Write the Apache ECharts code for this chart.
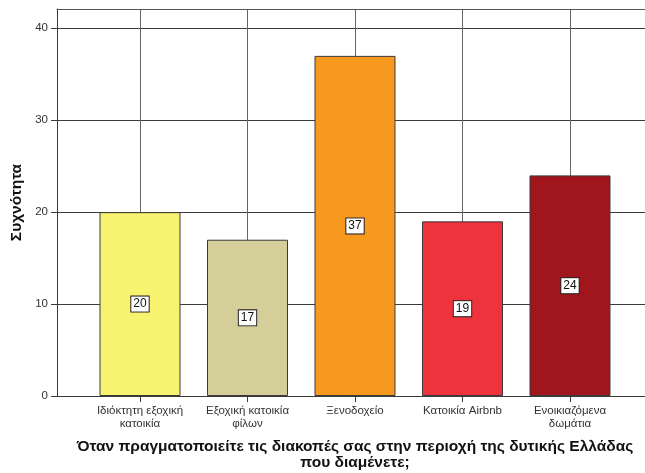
<!DOCTYPE html>
<html>
<head>
<meta charset="utf-8">
<script src="https://cdn.jsdelivr.net/npm/echarts@6/dist/echarts.min.js"></script>
<style>
  html, body { margin: 0; padding: 0; background: #fff; }
  #chart { width: 645px; height: 473px; }
</style>
</head>
<body>
<div id="chart"></div>
<script>
// Accommodation types and their counts
const categories = [
  'Ιδιόκτητη εξοχική\nκατοικία',
  'Εξοχική κατοικία\nφίλων',
  'Ξενοδοχείο',
  'Κατοικία Airbnb',
  'Ενοικιαζόμενα\nδωμάτια'
];
const counts = [20, 17, 37, 19, 24];
const barColors = ['#F8F36F', '#D4CE98', '#F7991F', '#EF333C', '#A1161C'];
const yTicks = [0, 10, 20, 30, 40];

const yAxisTitle = 'Συχνότητα';
const xAxisTitle = 'Όταν πραγματοποιείτε τις διακοπές σας στην περιοχή της δυτικής Ελλάδας\nπου διαμένετε;';

const FONT = '"Liberation Sans", Arial, sans-serif';
const Y_MAX = 42.1;
const LINE = '#3a3a3a';

const chart = echarts.init(document.getElementById('chart'), null, { renderer: 'canvas' });

chart.setOption({
  animation: false,
  backgroundColor: '#ffffff',
  grid: [
    // full frame: value axis, horizontal grid lines
    { left: 57, right: 0, top: 9, bottom: 77, containLabel: false, outerBoundsMode: 'none' },
    // bars: category centres spaced evenly between the first and last bar
    { left: 140, right: 75, top: 9, bottom: 77, containLabel: false, outerBoundsMode: 'none' }
  ],
  xAxis: [
    {
      gridIndex: 0, type: 'value', min: 0, max: 1,
      axisLine: { show: true, lineStyle: { color: LINE, width: 1 } },
      axisTick: { show: false }, axisLabel: { show: false }, splitLine: { show: false }
    },
    {
      gridIndex: 0, type: 'value', min: 0, max: 1, position: 'top',
      axisLine: { show: true, lineStyle: { color: '#555', width: 1 } },
      axisTick: { show: false }, axisLabel: { show: false }, splitLine: { show: false }
    },
    {
      gridIndex: 1, type: 'category', data: categories, boundaryGap: false,
      axisLine: { show: false },
      axisTick: { show: true, length: 6, inside: false, lineStyle: { color: LINE } },
      axisLabel: {
        show: true, interval: 0, margin: 8, color: '#333', fontFamily: FONT, fontSize: 11.5, lineHeight: 13
      },
      splitLine: { show: true, lineStyle: { color: '#666', width: 1 } },
      name: xAxisTitle,
      nameLocation: 'middle',
      nameGap: 43,
      nameTextStyle: { fontFamily: FONT, fontSize: 15.5, fontWeight: 'bold', color: '#111', lineHeight: 16 }
    }
  ],
  yAxis: [
    {
      gridIndex: 0, type: 'value', min: 0, max: Y_MAX, interval: 10,
      axisLine: { show: true, lineStyle: { color: LINE, width: 1 } },
      axisTick: { show: true, length: 6, inside: false, lineStyle: { color: LINE } },
      axisLabel: {
        show: true, margin: 9, color: '#333', fontFamily: FONT, fontSize: 11.5,
        showMaxLabel: false,
        formatter: v => (yTicks.indexOf(v) >= 0 ? String(v) : '')
      },
      splitLine: { show: true, lineStyle: { color: LINE, width: 1 } },
      name: yAxisTitle,
      nameLocation: 'middle',
      nameGap: 31,
      nameRotate: 90,
      nameTextStyle: { fontFamily: FONT, fontSize: 15.5, fontWeight: 'bold', color: '#111' }
    },
    {
      gridIndex: 1, type: 'value', min: 0, max: Y_MAX, interval: 10,
      show: false
    }
  ],
  series: [
    {
      type: 'bar',
      xAxisIndex: 2,
      yAxisIndex: 1,
      barWidth: 81,
      data: counts.map((v, i) => ({
        value: v,
        itemStyle: { color: barColors[i], borderColor: '#3a3a3a', borderWidth: 1 }
      })),
      label: {
        show: true,
        position: 'inside',
        color: '#111',
        fontFamily: FONT,
        fontSize: 12,
        backgroundColor: '#ffffff',
        borderColor: '#222',
        borderWidth: 1,
        padding: [2, 2, 1, 2]
      }
    }
  ]
});
</script>
</body>
</html>
